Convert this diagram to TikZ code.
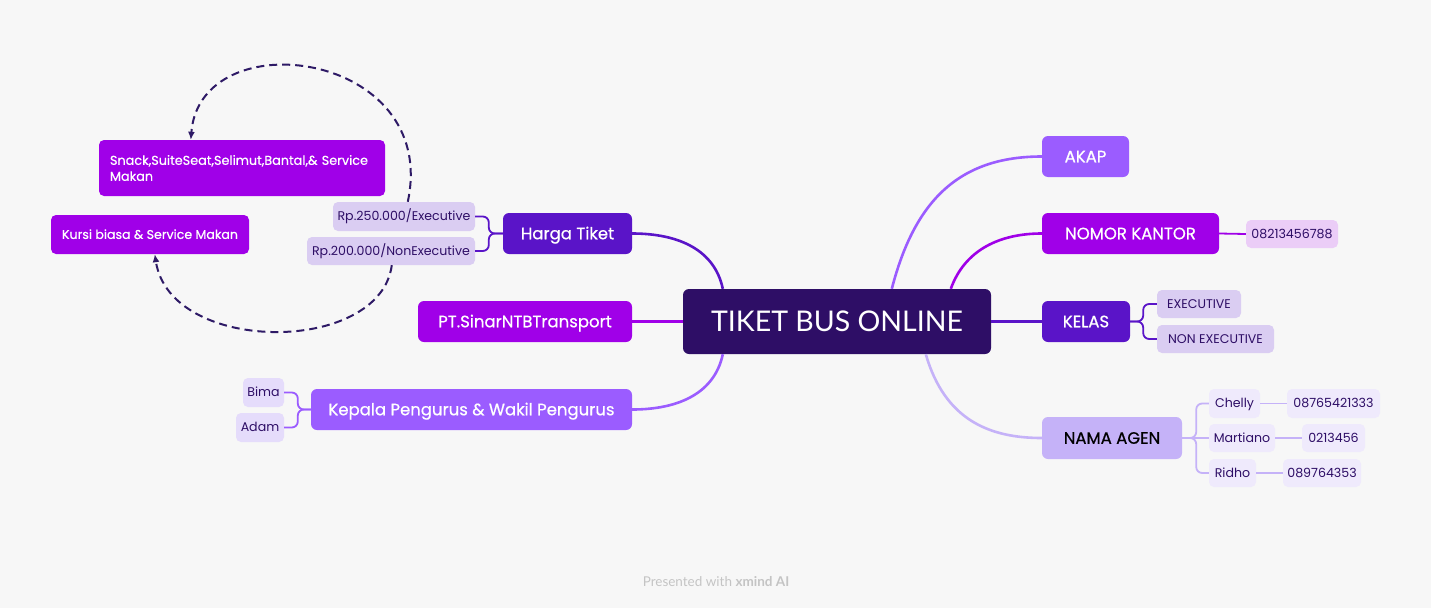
\documentclass[tikz,border=0pt]{standalone}
\usepackage{fontspec}
\setmainfont{Poppins}
\newfontfamily\latofont{Lato}
\newfontfamily\popmed{Poppins}[FakeBold=0.6]
\usetikzlibrary{arrows.meta,calc}
\definecolor{bg}{HTML}{F7F7F7}
\definecolor{cdark}{HTML}{2E0E66}
\definecolor{cviolet}{HTML}{5A14C8}
\definecolor{cmag}{HTML}{A000E8}
\definecolor{clight}{HTML}{9B5CFF}
\definecolor{cpale}{HTML}{C5B2F8}
\definecolor{csub}{HTML}{DACDF2}
\definecolor{csubb}{HTML}{E5DCFB}
\definecolor{csubp}{HTML}{EBCDF7}
\definecolor{csubl}{HTML}{EFEAFC}
\definecolor{cdash}{HTML}{2E1A66}
\definecolor{cfoot}{HTML}{C4C4C4}
\begin{document}
\begin{tikzpicture}[x=1pt,y=-1pt,
  mainbox/.style={rounded corners=6pt, inner sep=0pt, text=white, text height=11.5pt, text depth=0pt, font=\popmed\fontsize{16.5}{19}\selectfont},
  subbox/.style={rounded corners=5pt, inner sep=0pt, text=cdark, text height=8.8pt, text depth=0pt, font=\fontsize{12.6}{15}\selectfont},
  link/.style={line width=2.6pt},
  sublink/.style={line width=1.8pt, rounded corners=6pt},
  dashlink/.style={line width=2pt, cdash, dash pattern=on 8pt off 5pt, -{Latex[length=8pt,width=7pt]}}
]
\useasboundingbox (0,0) rectangle (1431,608);
\fill[bg] (0,0) rectangle (1431,608);

% central
\node[mainbox, fill=cdark, minimum width=308pt, minimum height=65pt, text height=20.5pt, font=\latofont\fontsize{28.5}{32}\selectfont] (central) at (837,321.5) {TIKET BUS ONLINE};

% left main
\node[mainbox, fill=cviolet, minimum width=129pt, minimum height=41pt] (harga) at (567.5,233.5) {Harga Tiket};
\node[mainbox, fill=cmag, minimum width=214pt, minimum height=41pt] (pt) at (525,321.5) {PT.SinarNTBTransport};
\node[mainbox, fill=clight, minimum width=321pt, minimum height=41pt] (kepala) at (471.5,409.5) {Kepala Pengurus \& Wakil Pengurus};

% right main
\node[mainbox, fill=clight, minimum width=87pt, minimum height=41pt] (akap) at (1085.5,156.5) {AKAP};
\node[mainbox, fill=cmag, minimum width=177pt, minimum height=41pt] (nomor) at (1130.5,233.5) {NOMOR KANTOR};
\node[mainbox, fill=cviolet, minimum width=88pt, minimum height=41pt] (kelas) at (1086,321.5) {KELAS};
\node[mainbox, fill=cpale, text=black, minimum width=140pt, minimum height=42pt] (nama) at (1112,438) {NAMA AGEN};

% left subs
\node[subbox, fill=csub, minimum width=142pt, minimum height=29pt] (rpa) at (404,216.5) {Rp.250.000/Executive};
\node[subbox, fill=csub, minimum width=168pt, minimum height=28pt] (rpb) at (391,251) {Rp.200.000/NonExecutive};
\node[rounded corners=5pt, fill=cmag, text=white, inner xsep=11pt, inner ysep=0pt, text width=264pt, align=left, minimum height=56pt, font=\popmed\fontsize{12.8}{16}\selectfont] (snack) at (242,168) {Snack,SuiteSeat,Selimut,Bantal,\& Service\\Makan};
\node[subbox, fill=cmag, text=white, minimum width=198pt, minimum height=39pt, font=\popmed\fontsize{12.6}{15}\selectfont] (kursi) at (150,234.5) {Kursi biasa \& Service Makan};
\node[subbox, fill=csubb, minimum width=41pt, minimum height=29pt] (bima) at (263.5,392.5) {Bima};
\node[subbox, fill=csubb, minimum width=48pt, minimum height=29pt] (adam) at (260,427.5) {Adam};

% right subs
\node[subbox, fill=csubp, minimum width=92pt, minimum height=28pt] (tel) at (1292,234) {08213456788};
\node[subbox, fill=csub, minimum width=84pt, minimum height=28pt] (exec) at (1199,304) {EXECUTIVE};
\node[subbox, fill=csub, minimum width=117pt, minimum height=28pt] (nonexec) at (1215.5,339) {NON EXECUTIVE};
\node[subbox, fill=csubl, minimum width=51pt, minimum height=29pt] (chelly) at (1234.5,403.5) {Chelly};
\node[subbox, fill=csubl, minimum width=66pt, minimum height=28pt] (martiano) at (1242,438) {Martiano};
\node[subbox, fill=csubl, minimum width=47pt, minimum height=28pt] (ridho) at (1232.5,473) {Ridho};
\node[subbox, fill=csubl, minimum width=93pt, minimum height=29pt] (ta) at (1333.5,403.5) {08765421333};
\node[subbox, fill=csubl, minimum width=63pt, minimum height=28pt] (tb) at (1333.5,438) {0213456};
\node[subbox, fill=csubl, minimum width=78pt, minimum height=28pt] (tc) at (1322,473) {089764353};

% main connectors
\draw[link, cviolet] ($(central.north west)+(40,0)$) .. controls +(-8,-38) and +(48,0) .. (harga.east);
\draw[link, cmag] (central.west) -- (pt.east);
\draw[link, clight] ($(central.south west)+(40,0)$) .. controls +(-8,38) and +(48,0) .. (kepala.east);
\draw[link, clight] ($(central.north west)+(209,0)$) .. controls +(23,-89) and +(-82,0) .. (akap.west);
\draw[link, cmag] ($(central.north west)+(268,0)$) .. controls +(14,-39) and +(-42,0) .. (nomor.west);
\draw[link, cviolet] (central.east) -- (kelas.west);
\draw[link, cpale] ($(central.south west)+(243,0)$) .. controls +(19,66) and +(-52,0) .. (nama.west);

% sub connectors
\draw[sublink, cviolet] (harga.west) -- ++(-14,0) |- (rpa.east);
\draw[sublink, cviolet] (harga.west) -- ++(-14,0) |- (rpb.east);
\draw[sublink, clight] (kepala.west) -- ++(-13,0) |- (bima.east);
\draw[sublink, clight] (kepala.west) -- ++(-13,0) |- (adam.east);
\draw[sublink, cmag] (nomor.east) -- (tel.west);
\draw[sublink, cviolet] (kelas.east) -- ++(13,0) |- (exec.west);
\draw[sublink, cviolet] (kelas.east) -- ++(13,0) |- (nonexec.west);
\draw[sublink, cpale] (nama.east) -- ++(14,0) |- (chelly.west);
\draw[sublink, cpale] (nama.east) -- (martiano.west);
\draw[sublink, cpale] (nama.east) -- ++(14,0) |- (ridho.west);
\draw[sublink, cpale] (chelly.east) -- (ta.west);
\draw[sublink, cpale] (martiano.east) -- (tb.west);
\draw[sublink, cpale] (ridho.east) -- (tc.west);

% dashed relations
\draw[dashlink] ($(rpa.north west)+(75,0)$) .. controls (440,50) and (200,20) .. ($(snack.north west)+(92,0)$);
\draw[dashlink] ($(rpb.south west)+(85,0)$) .. controls (380,355) and (170,355) .. ($(kursi.south west)+(104,0)$);

% footer
\node[text=cfoot, font=\latofont\fontsize{13.5}{16}\selectfont, inner sep=0pt] (foot) at (716,582) {Presented with \textbf{xmind AI}};
\end{tikzpicture}
\end{document}
